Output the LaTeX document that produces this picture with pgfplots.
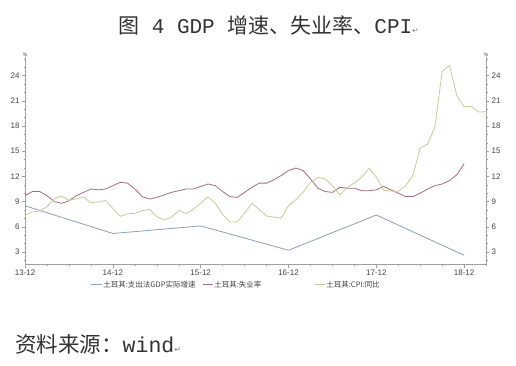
\documentclass[border=0pt]{standalone}
\usepackage{fontspec}
\usepackage{pgfplots}
\pgfplotsset{compat=1.18}
\setmainfont{Liberation Sans}
\newfontfamily\cjk{Noto Sans CJK SC}
\newfontfamily\mono{Liberation Mono}
\newfontfamily\dejavu{DejaVu Sans}
\definecolor{unemp}{HTML}{A36A80}
\definecolor{gdp}{HTML}{8AA0B8}
\definecolor{cpi}{HTML}{C8C899}
\definecolor{axgray}{HTML}{A0A0A0}
\definecolor{txtgray}{HTML}{444444}
\begin{document}
\begin{tikzpicture}[x=1pt,y=1pt]
\path (0,0) rectangle (516,365);
% title
\node[anchor=base west, inner sep=0pt, text=black!80] at (118,331) {\fontsize{21}{21}\selectfont\cjk 图{\mono\ 4 GDP }增速、失业率、{\mono CPI}{\color{gray}\dejavu\fontsize{8}{8}\selectfont ↵}};
% footer
\node[anchor=base west, inner sep=0pt, text=black!80] at (15,13) {\fontsize{21.5}{21.5}\selectfont\cjk 资料来源：{\mono wind}{\color{gray}\dejavu\fontsize{8}{8}\selectfont ↵}};
\begin{axis}[
  name=main,
  at={(34.3,119.7)}, anchor=south west,
  scale only axis, width=461, height=207.3,
  xmin=0, xmax=63, ymin=1.5, ymax=26.2,
  axis x line*=bottom, axis y line*=left,
  axis line style={axgray, line width=0.6pt, -},
  xtick={0,12,24,36,48,60},
  xticklabels={13-12,14-12,15-12,16-12,17-12,18-12},
  minor xtick={3,6,9,15,18,21,27,30,33,39,42,45,51,54,57,63},
  ytick={3,6,...,24},
  minor ytick={2,4,5,7,8,10,11,13,14,16,17,19,20,22,23,25,26},
  tick align=outside,
  major tick length=3pt, minor tick length=1.5pt,
  tick style={axgray, line width=0.5pt},
  ticklabel style={font=\fontsize{8}{8}\selectfont, text=txtgray},
  xticklabel style={yshift=1.5pt},
  yticklabel style={xshift=1pt},
  /pgf/number format/assume math mode=true,
  clip=false,
  every axis plot/.append style={line width=0.8pt, line join=round},
]
\addplot[gdp] coordinates {(0,8.5) (12,5.2) (24,6.1) (36,3.2) (48,7.4) (60,2.6)};
\addplot[unemp] coordinates {
(0,9.7) (1,10.2) (2,10.2) (3,9.7) (4,9.0) (5,8.8) (6,9.1) (7,9.7) (8,10.1) (9,10.5)
(10,10.4) (11,10.5) (12,10.9) (13,11.3) (14,11.2) (15,10.5) (16,9.6) (17,9.3) (18,9.5) (19,9.8)
(20,10.1) (21,10.3) (22,10.5) (23,10.5) (24,10.8) (25,11.1) (26,10.9) (27,10.2) (28,9.6) (29,9.5)
(30,10.1) (31,10.7) (32,11.2) (33,11.2) (34,11.6) (35,12.1) (36,12.7) (37,13.0) (38,12.7) (39,11.7)
(40,10.6) (41,10.2) (42,10.1) (43,10.7) (44,10.6) (45,10.6) (46,10.3) (47,10.3) (48,10.4) (49,10.8)
(50,10.4) (51,10.0) (52,9.6) (53,9.6) (54,10.0) (55,10.5) (56,10.9) (57,11.1) (58,11.5) (59,12.2)
(60,13.5)};
\addplot[cpi] coordinates {
(0,7.40) (1,7.75) (2,7.89) (3,8.39) (4,9.38) (5,9.66) (6,9.16) (7,9.32) (8,9.54) (9,8.86)
(10,8.96) (11,9.15) (12,8.17) (13,7.24) (14,7.55) (15,7.61) (16,7.91) (17,8.09) (18,7.20) (19,6.81)
(20,7.14) (21,7.95) (22,7.58) (23,8.10) (24,8.81) (25,9.58) (26,8.78) (27,7.46) (28,6.57) (29,6.58)
(30,7.64) (31,8.79) (32,8.05) (33,7.28) (34,7.16) (35,7.00) (36,8.53) (37,9.22) (38,10.13) (39,11.29)
(40,11.87) (41,11.72) (42,10.90) (43,9.79) (44,10.68) (45,11.20) (46,11.90) (47,12.98) (48,11.92) (49,10.35)
(50,10.26) (51,10.23) (52,10.85) (53,12.15) (54,15.39) (55,15.85) (56,17.90) (57,24.52) (58,25.24) (59,21.62)
(60,20.30) (61,20.35) (62,19.67) (63,19.71)};
\node[anchor=south, inner sep=1pt, text=txtgray, font=\fontsize{5}{5}\selectfont] at (rel axis cs:0,1) {\%};
\end{axis}
\begin{axis}[
  at={(main.south west)}, anchor=south west,
  scale only axis, width=461, height=207.3,
  xmin=0, xmax=63, ymin=1.5, ymax=26.2,
  axis x line=none, axis y line*=right,
  axis line style={axgray, line width=0.6pt, -},
  ytick={3,6,...,24},
  minor ytick={2,4,5,7,8,10,11,13,14,16,17,19,20,22,23,25,26},
  tick align=outside,
  major tick length=3pt, minor tick length=1.5pt,
  tick style={axgray, line width=0.5pt},
  ticklabel style={font=\fontsize{8}{8}\selectfont, text=txtgray},
  yticklabel style={xshift=-1pt},
  /pgf/number format/assume math mode=true,
  clip=false,
]
\node[anchor=south, inner sep=1pt, text=txtgray, font=\fontsize{5}{5}\selectfont] at (rel axis cs:1,1) {\%};
\end{axis}
% legend
\begin{scope}[line width=0.8pt]
\draw[gdp] (91,80.5) -- (102,80.5);
\node[anchor=west, inner sep=0pt, text=txtgray] at (103,80.5) {\fontsize{7.5}{7.5}\selectfont\cjk 土耳其:支出法GDP实际增速};
\draw[unemp] (203,80.5) -- (213,80.5);
\node[anchor=west, inner sep=0pt, text=txtgray] at (214,80.5) {\fontsize{7.5}{7.5}\selectfont\cjk 土耳其:失业率};
\draw[cpi] (315,80.5) -- (325,80.5);
\node[anchor=west, inner sep=0pt, text=txtgray] at (326,80.5) {\fontsize{7.5}{7.5}\selectfont\cjk 土耳其:CPI:同比};
\end{scope}
\end{tikzpicture}
\end{document}
